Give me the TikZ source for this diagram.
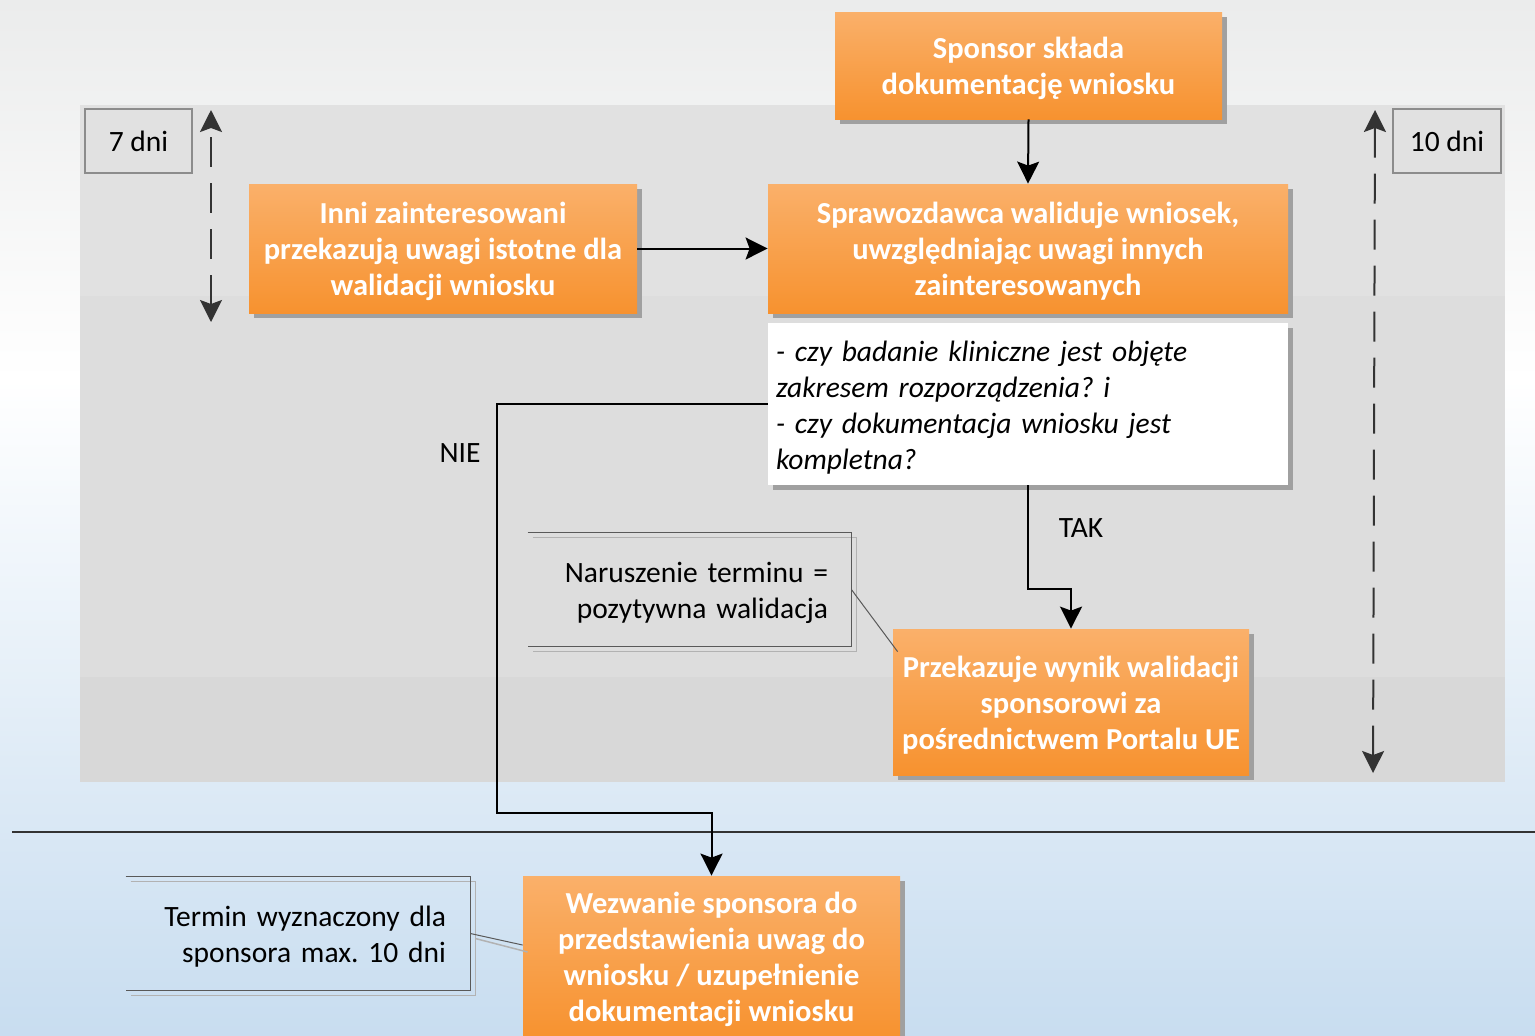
\documentclass[tikz,border=0pt]{standalone}
\usepackage{fontspec}
\setmainfont{Carlito}
\usetikzlibrary{arrows.meta,shadows,calc}
\definecolor{orTop}{HTML}{FAB06A}
\definecolor{orBot}{HTML}{F7922F}
\definecolor{bgTop}{HTML}{EBECEC}
\definecolor{bgBot}{HTML}{C8DDF0}
\definecolor{bandA}{HTML}{E1E1E1}
\definecolor{bandB}{HTML}{DDDDDD}
\definecolor{bandC}{HTML}{D8D8D8}
\definecolor{shadowgrey}{HTML}{A0A0A0}
\definecolor{darkline}{HTML}{333333}
\newcommand\dfont{\fontsize{14.75pt}{18pt}\selectfont\frenchspacing}
\newcommand\bfont{\fontsize{15.25pt}{18pt}\selectfont\frenchspacing\bfseries}
\newcommand\fl{\rule{0pt}{13.5pt}}
\tikzset{
  orbox/.style={rectangle, top color=orTop, bottom color=orBot, draw=none,
    text=white, font=\bfont, align=center, inner sep=2pt,
    general shadow={fill=shadowgrey, shadow xshift=2.5pt, shadow yshift=-2.5pt}},
  qbox/.style={rectangle, fill=white, draw=none, font=\dfont\itshape, align=left,
    inner xsep=4pt, inner ysep=2pt,
    general shadow={fill=shadowgrey, shadow xshift=2.5pt, shadow yshift=-2.5pt}},
  daybox/.style={rectangle, fill=bandA, draw=gray!90, line width=0.6pt, font=\dfont},
  notebox/.style={rectangle, draw=none, font=\dfont, align=right, inner ysep=2pt},
  noteline/.style={draw=black!65, line width=0.75pt},
  noteshade/.style={draw=black!30, line width=0.75pt},
  conn/.style={draw=black, line width=1pt, -{Stealth[length=11pt,width=11pt,inset=2pt]}},
  span/.style={draw=darkline, line width=1pt, dash pattern=on 15pt off 8pt,
    {Stealth[length=11pt,width=11pt,inset=2pt]}-{Stealth[length=11pt,width=11pt,inset=2pt]}},
  lbl/.style={font=\dfont, inner sep=0pt}
}
\begin{document}
\begin{tikzpicture}[x=0.5pt,y=-0.5pt]
\useasboundingbox (0,0) rectangle (1535,1035);
\clip (0,0) rectangle (1535,1035);
% background
\shade[top color=bgTop, bottom color=white] (0,0) rectangle (1535,380);
\shade[top color=white, bottom color=bgBot] (0,379) rectangle (1535,1035);
% grey region bands
\fill[bandA] (80,105) rectangle (1505,296);
\fill[bandB] (80,296) rectangle (1505,677);
\fill[bandC] (80,677) rectangle (1505,782);
% separator
\draw[draw=black!80, line width=1.4pt] (12,832) -- (1535,832);

% day boxes
\node[daybox, minimum width=53.5pt, minimum height=32pt] (d7) at (138.5,141) {7 dni};
\node[daybox, minimum width=54pt, minimum height=32pt] (d10) at (1447,141) {10 dni};
\coordinate (s7a) at (211,110);
\coordinate (s7b) at (211,322);
\coordinate (s10a) at (1375,110);
\coordinate (s10b) at (1373,773);
\draw[span] (s7b) -- (s7a);
\draw[span] (s10b) -- (s10a);

% main boxes
\node[orbox, minimum width=193.5pt, minimum height=53.5pt] (spon) at (1028.5,65.5)
  {\fl Sponsor składa\\dokumentację wniosku};
\node[orbox, minimum width=194pt, minimum height=64.5pt] (inni) at (443,248.5)
  {\fl Inni zainteresowani\\przekazują uwagi istotne dla\\walidacji wniosku};
\node[orbox, minimum width=260pt, minimum height=64.5pt] (spr) at (1028,248.5)
  {\fl Sprawozdawca waliduje wniosek,\\uwzględniając uwagi innych\\zainteresowanych};
\node[qbox, minimum height=81pt, text width=252pt] (q) at (1028,404)
  {\fl - czy badanie kliniczne jest objęte\\zakresem rozporządzenia? i\\- czy dokumentacja wniosku jest\\kompletna?};
\node[orbox, minimum width=178pt, minimum height=73pt] (prz) at (1071,702)
  {\fl Przekazuje wynik walidacji\\sponsorowi za\\pośrednictwem Portalu UE};
\node[orbox, minimum width=188.5pt, minimum height=81pt] (wez) at (711.5,957)
  {\fl Wezwanie sponsora do\\przedstawienia uwag do\\wniosku / uzupełnienie\\dokumentacji wniosku};

% notes
\node[notebox, minimum width=161.5pt, minimum height=56.5pt, text width=138.5pt, inner xsep=11.5pt]
  (nar) at (689.5,589.5) {\fl Naruszenie terminu =\\pozytywna walidacja};
\node[notebox, minimum width=172pt, minimum height=56.5pt, text width=148pt, inner xsep=12pt]
  (ter) at (298,933.5) {\fl Termin wyznaczony dla\\sponsora max. 10 dni};

\draw[noteshade] ($(nar.north west)+(5,5)$) -- ($(nar.north east)+(5,5)$) -- ($(nar.south east)+(5,5)$) -- ($(nar.south west)+(5,5)$);
\draw[noteline] (nar.north west) -- (nar.north east) -- (nar.south east) -- (nar.south west);
\draw[noteline, line width=0.5pt] (nar.east) -- ($(prz.north west)+(5,23)$);

\draw[noteshade] ($(ter.north west)+(5,5)$) -- ($(ter.north east)+(5,5)$) -- ($(ter.south east)+(5,5)$) -- ($(ter.south west)+(5,5)$);
\draw[noteline] (ter.north west) -- (ter.north east) -- (ter.south east) -- (ter.south west);
\draw[noteshade] ($(ter.east)+(5,5)$) -- ($(wez.west)+(5,-5)$);
\draw[noteline, line width=0.5pt] (ter.east) -- ($(wez.west)+(0,-12)$);

% connectors
\draw[conn] (spon.south) -- (spr.north);
\draw[conn] (inni.east) -- (spr.west);
\draw[conn] (q.west) -| (497,813) -| (wez.north);
\draw[conn] (q.south) -- (1028,589) -| (prz.north);

% labels
\node[lbl] (nie) at (460,453) {NIE};
\node[lbl] (tak) at (1081,528) {TAK};
\end{tikzpicture}
\end{document}
